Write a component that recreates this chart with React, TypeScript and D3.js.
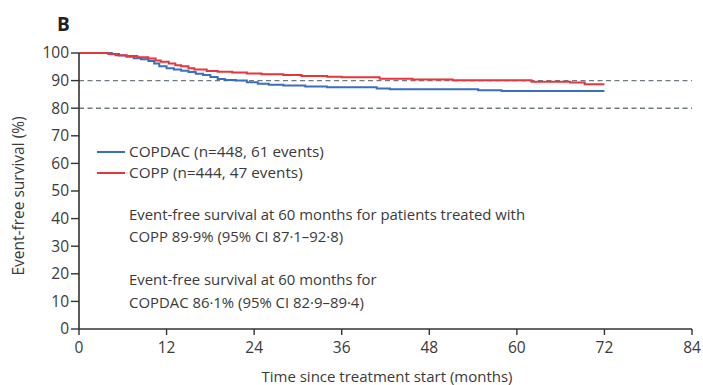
import React from 'react';
import * as d3 from 'd3';

// step data: [month, survival %]
const copdac: [number, number][] = [
  [0, 100], [3.6, 100], [4.5, 99.6], [5.5, 99.1], [6.5, 98.6], [7.5, 98.1],
  [8.5, 97.7], [9.5, 97.1], [10.3, 96.2], [11, 95.2], [12, 94.5], [13, 94.0],
  [14, 93.6], [15, 93.1], [16, 92.5], [17, 92.0], [18, 91.3], [19, 90.6],
  [20, 90.2], [21.5, 90.0], [23, 89.4], [24.5, 88.9], [26, 88.5], [28, 88.2],
  [31, 87.9], [34, 87.6], [40.8, 87.1], [42.6, 86.9], [54.7, 86.5], [57.9, 86.2],
  [72, 86.2],
];
const copp: [number, number][] = [
  [0, 100], [2.9, 100], [4, 99.6], [5, 99.2], [6.5, 98.9], [8, 98.5],
  [9.5, 98.0], [10.5, 97.3], [11.2, 96.8], [12.3, 96.2], [13.2, 95.6],
  [14, 95.2], [15, 94.5], [15.8, 94.0], [17.5, 93.5], [19, 93.2], [21, 92.9],
  [23, 92.6], [25, 92.3], [28, 92.0], [30.5, 91.7], [34, 91.4], [36, 91.2],
  [41.2, 90.7], [45.7, 90.4], [51.2, 90.1], [62, 89.6], [67.3, 89.3], [69.3, 88.7],
  [72, 88.7],
];

const xTicks = [0, 12, 24, 36, 48, 60, 72, 84];
const yTicks = [0, 10, 20, 30, 40, 50, 60, 70, 80, 90, 100];
const refLines = [90, 80];

const legendItems = [
  { label: 'COPDAC (n=448, 61 events)', color: '#3a6fc0' },
  { label: 'COPP (n=444, 47 events)', color: '#e8343a' },
];
const notes = [
  'Event-free survival at 60 months for patients treated with',
  'COPP 89·9% (95% CI 87·1–92·8)',
  'Event-free survival at 60 months for',
  'COPDAC 86·1% (95% CI 82·9–89·4)',
];

const W = 703;
const H = 385;
const font = '"Open Sans", "Noto Sans", sans-serif';
const textCol = '#3a3a3a';

export default function App() {
  const x = d3.scaleLinear().domain([0, 84]).range([79, 692]);
  const y = d3.scaleLinear().domain([0, 100]).range([329, 53]);
  const line = d3
    .line<[number, number]>()
    .x((d) => x(d[0]))
    .y((d) => y(d[1]))
    .curve(d3.curveStepAfter);

  return (
    <svg
      width={W}
      height={H}
      style={{ position: 'absolute', left: 0, top: 0, background: '#fff' }}
      fontFamily={font}
    >
      <text x={57} y={31} fontSize={19} fontWeight="bold" fill="#222">
        B
      </text>

      {refLines.map((v) => (
        <line
          key={v}
          x1={x(0)}
          x2={x(84)}
          y1={y(v)}
          y2={y(v)}
          stroke="#6f7a80"
          strokeWidth={1.4}
          strokeDasharray="5 3.5"
        />
      ))}

      <path d={line(copdac) || ''} fill="none" stroke="#3a6fc0" strokeWidth={2} />
      <path d={line(copp) || ''} fill="none" stroke="#e8343a" strokeWidth={2} />

      {/* axes */}
      <line x1={x(0)} x2={x(0)} y1={y(100)} y2={y(0)} stroke="#333" strokeWidth={1.6} />
      <line x1={x(0)} x2={x(84)} y1={y(0)} y2={y(0)} stroke="#333" strokeWidth={1.6} />
      {yTicks.map((t) => (
        <g key={t}>
          <line x1={x(0) - 8} x2={x(0)} y1={y(t)} y2={y(t)} stroke="#333" strokeWidth={1.4} />
          <text
            x={x(0) - 10}
            y={y(t)}
            dy="0.35em"
            textAnchor="end"
            fontSize={15.5}
            fill={textCol}
          >
            {t}
          </text>
        </g>
      ))}
      {xTicks.map((t) => (
        <g key={t}>
          <line x1={x(t)} x2={x(t)} y1={y(0)} y2={y(0) + 6} stroke="#333" strokeWidth={1.4} />
          <text x={x(t)} y={353} textAnchor="middle" fontSize={15.5} fill={textCol}>
            {t}
          </text>
        </g>
      ))}

      <text
        transform={`translate(24,${196}) rotate(-90)`}
        textAnchor="middle"
        fontSize={15.5}
        fill={textCol}
      >
        Event-free survival (%)
      </text>
      <text x={387} y={382} textAnchor="middle" fontSize={15} fill={textCol}>
        Time since treatment start (months)
      </text>

      {legendItems.map((d, i) => (
        <g key={d.label} transform={`translate(0,${152 + i * 21})`}>
          <line x1={97} x2={125} y1={0} y2={0} stroke={d.color} strokeWidth={2} />
          <text x={129} y={0} dy="0.35em" fontSize={15.3} fill={textCol}>
            {d.label}
          </text>
        </g>
      ))}

      {notes.map((n, i) => (
        <text
          key={i}
          x={129}
          y={[215, 237, 280, 302.5][i]}
          dy="0.35em"
          fontSize={14.9}
          fill={textCol}
        >
          {n}
        </text>
      ))}
    </svg>
  );
}
